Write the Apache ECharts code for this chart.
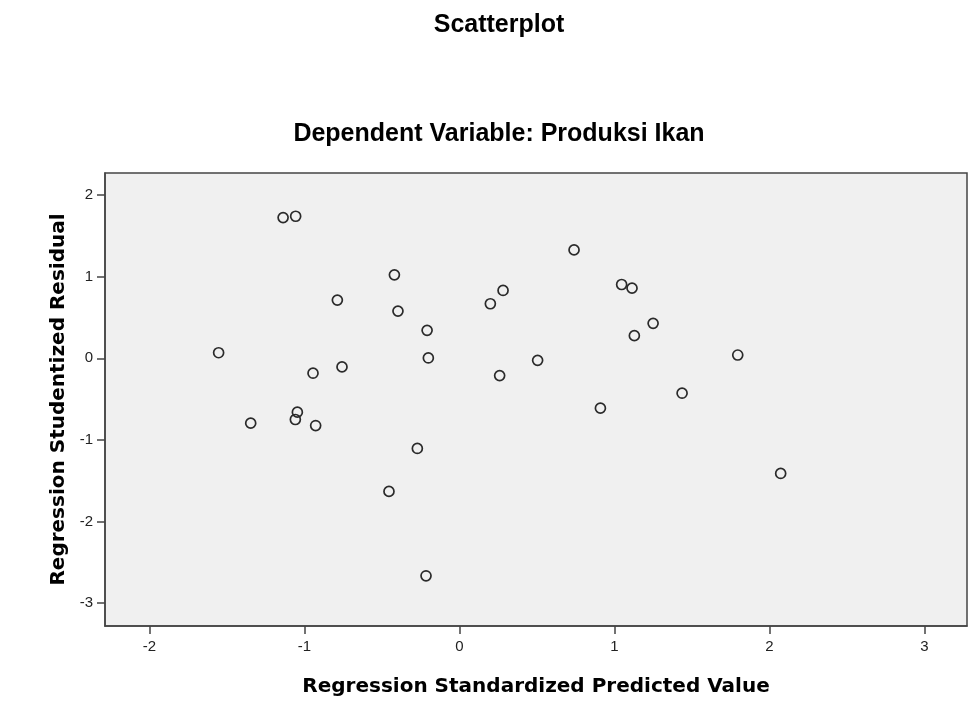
<!DOCTYPE html>
<html>
<head>
<meta charset="utf-8">
<script src="https://cdn.jsdelivr.net/npm/echarts@6/dist/echarts.min.js"></script>
<style>
html,body{margin:0;padding:0;background:#fff;}
#chart{width:976px;height:711px;}
</style>
</head>
<body>
<div id="chart"></div>
<script>
// Regression Standardized Predicted Value
const xPred = [-1.553, -1.137, -1.056, -0.419, -0.787, 0.282, 0.200, -0.396, -0.208, -0.200,
               -0.944, -0.757, 0.260, 0.740, 1.047, 1.114, 1.250, 1.129, 0.505, 1.796,
               1.437, 0.910, -1.346, -1.045, -1.058, -0.927, -0.271, -0.454, -0.215, 2.073];
// Regression Studentized Residual
const yResid = [0.068, 1.724, 1.740, 1.022, 0.713, 0.831, 0.668, 0.578, 0.342, 0.004,
                -0.183, -0.106, -0.212, 1.328, 0.904, 0.859, 0.428, 0.277, -0.025, 0.040,
                -0.428, -0.611, -0.795, -0.660, -0.750, -0.824, -1.105, -1.631, -2.665, -1.411];
const xTicks = [-2, -1, 0, 1, 2, 3];
const yTicks = [-3, -2, -1, 0, 1, 2];
const titleText = 'Scatterplot';
const subtitleText = 'Dependent Variable: Produksi Ikan';
const xName = 'Regression Standardized Predicted Value';
const yName = 'Regression Studentized Residual';

const points = xPred.map((x, i) => [x, yResid[i]]);

const chart = echarts.init(document.getElementById('chart'), null, {renderer: 'canvas'});
const axisColor = '#444';
chart.setOption({
  backgroundColor: '#ffffff',
  animation: false,
  title: [
    {text: titleText, left: 494, top: 8, textAlign: 'center',
     textStyle: {fontFamily: 'Liberation Sans', fontWeight: 'bold', fontSize: 25, color: '#000'}},
    {text: subtitleText, left: 494, top: 117, textAlign: 'center',
     textStyle: {fontFamily: 'Liberation Sans', fontWeight: 'bold', fontSize: 25, color: '#000'}}
  ],
  grid: {
    left: 105, top: 173, width: 862, height: 453,
    show: true, backgroundColor: '#f0f0f0', borderColor: axisColor, borderWidth: 1.5,
    containLabel: false
  },
  xAxis: {
    type: 'value', min: -2.286, max: 3.275,
    name: xName, nameLocation: 'middle', nameGap: 51,
    nameTextStyle: {fontFamily: 'DejaVu Sans', fontWeight: 'bold', fontSize: 20, color: '#000'},
    axisLine: {show: true, onZero: false, lineStyle: {color: axisColor, width: 1.5}},
    axisTick: {show: true, length: 8, lineStyle: {color: axisColor, width: 1.5}, customValues: xTicks},
    axisLabel: {show: true, margin: 13, customValues: xTicks, fontFamily: 'Liberation Sans', fontSize: 15, color: '#222'},
    splitLine: {show: false}
  },
  yAxis: {
    type: 'value', min: -3.28, max: 2.27,
    name: yName, nameLocation: 'middle', nameGap: 25, nameRotate: 90,
    nameTextStyle: {fontFamily: 'DejaVu Sans', fontWeight: 'bold', fontSize: 20, color: '#000'},
    axisLine: {show: true, onZero: false, lineStyle: {color: axisColor, width: 1.5}},
    axisTick: {show: true, length: 8, lineStyle: {color: axisColor, width: 1.5}, customValues: yTicks},
    axisLabel: {show: true, margin: 12, customValues: yTicks, fontFamily: 'Liberation Sans', fontSize: 15, color: '#222'},
    splitLine: {show: false}
  },
  series: [{
    type: 'scatter',
    data: points,
    symbol: 'circle',
    symbolSize: 10,
    itemStyle: {color: 'rgba(0,0,0,0)', borderColor: '#2a2a2a', borderWidth: 1.7, opacity: 1}
  }]
});
</script>
</body>
</html>
